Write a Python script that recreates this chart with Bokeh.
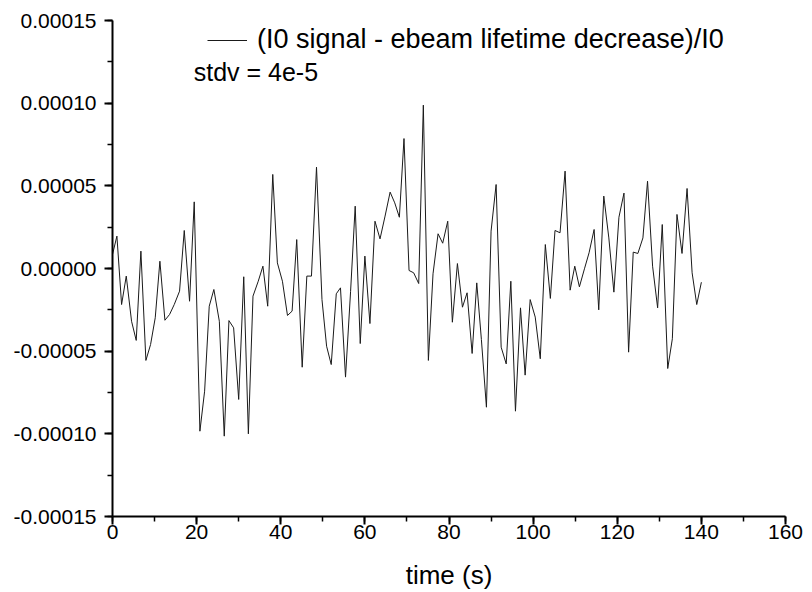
from bokeh.plotting import figure
from bokeh.models import Range1d, FixedTicker, PrintfTickFormatter, Legend, LegendItem, Label
from bokeh.embed import file_html
from bokeh.resources import INLINE

# time (s)
time_s = [0.0, 1.05, 2.16, 3.27, 4.53, 5.64, 6.75, 7.94, 9.05, 10.16, 11.27, 12.46, 13.57, 14.68,
          15.94, 17.06, 18.32, 19.43, 20.78, 21.9, 23.0, 24.1, 25.4, 26.57, 27.68, 28.8, 30.0,
          31.2, 32.3, 33.4, 34.65, 35.76, 36.9, 38.1, 39.2, 40.4, 41.6, 42.7, 43.8, 45.1, 46.2,
          47.3, 48.5, 49.8, 50.9, 52.0, 53.2, 54.2, 55.4, 56.6, 57.7, 58.9, 60.0, 61.2, 62.4,
          63.6, 64.8, 66.0, 67.1, 68.2, 69.3, 70.5, 71.6, 72.8, 73.9, 75.1, 76.2, 77.4, 78.5,
          79.7, 80.8, 82.0, 83.2, 84.3, 85.5, 86.6, 87.7, 88.9, 90.0, 91.2, 92.4, 93.6, 94.7,
          95.8, 97.0, 98.1, 99.3, 100.5, 101.7, 102.9, 104.1, 105.2, 106.4, 107.6, 108.8, 109.9,
          111.0, 112.2, 113.3, 114.5, 115.6, 116.8, 118.0, 119.2, 120.4, 121.6, 122.7, 123.8,
          124.9, 126.1, 127.2, 128.4, 129.6, 130.7, 132.0, 133.1, 134.2, 135.4, 136.6, 137.8,
          138.9, 140.0]

# (I0 signal - ebeam lifetime decrease)/I0
signal = [0.85e-5, 1.96e-5, -2.18e-5, -0.46e-5, -3.19e-5, -4.35e-5, 1.05e-5, -5.56e-5, -4.6e-5,
          -2.98e-5, 0.44e-5, -3.13e-5, -2.78e-5, -2.18e-5, -1.37e-5, 2.3e-5, -1.98e-5, 4.03e-5,
          -9.84e-5, -7.42e-5, -2.28e-5, -1.27e-5, -3.19e-5, -10.14e-5, -3.15e-5, -3.59e-5,
          -7.92e-5, -0.5e-5, -10.0e-5, -1.67e-5, -0.77e-5, 0.14e-5, -2.28e-5, 5.69e-5, 0.34e-5,
          -0.77e-5, -2.84e-5, -2.58e-5, 1.75e-5, -5.97e-5, -0.46e-5, -0.46e-5, 6.13e-5, -1.88e-5,
          -4.7e-5, -5.81e-5, -1.53e-5, -1.17e-5, -6.57e-5, -1.4e-5, 3.77e-5, -4.54e-5, 0.75e-5,
          -3.33e-5, 2.86e-5, 1.79e-5, 3.17e-5, 4.62e-5, 3.97e-5, 3.1e-5, 7.86e-5, -0.12e-5,
          -0.26e-5, -0.91e-5, 9.88e-5, -5.56e-5, -0.32e-5, 2.1e-5, 1.53e-5, 2.86e-5, -3.25e-5,
          0.3e-5, -2.34e-5, -1.47e-5, -5.14e-5, -0.87e-5, -4.29e-5, -8.39e-5, 2.26e-5, 5.08e-5,
          -4.76e-5, -5.77e-5, -0.77e-5, -8.63e-5, -2.38e-5, -6.45e-5, -1.88e-5, -2.94e-5,
          -5.46e-5, 1.45e-5, -1.81e-5, 2.3e-5, 2.16e-5, 5.89e-5, -1.31e-5, 0.14e-5, -1.11e-5,
          -0.02e-5, 0.95e-5, 2.36e-5, -2.5e-5, 4.38e-5, 1.85e-5, -1.43e-5, 3.1e-5, 4.56e-5,
          -5.06e-5, 0.99e-5, 0.91e-5, 1.85e-5, 5.28e-5, 0.14e-5, -2.38e-5, 2.66e-5, -6.05e-5,
          -4.25e-5, 3.27e-5, 0.91e-5, 4.84e-5, -0.26e-5, -2.18e-5, -0.83e-5]

x_ticks = [0, 20, 40, 60, 80, 100, 120, 140, 160]
x_minor = [0, 10, 20, 30, 40, 50, 60, 70, 80, 90, 100, 110, 120, 130, 140, 150, 160]
y_ticks = [-0.00015, -0.0001, -0.00005, 0.0, 0.00005, 0.0001, 0.00015]
y_minor = [-0.00015, -0.000125, -0.0001, -0.000075, -0.00005, -0.000025, 0.0,
           0.000025, 0.00005, 0.000075, 0.0001, 0.000125, 0.00015]

series_label = "(I0 signal - ebeam lifetime decrease)/I0"
note = "stdv = 4e-5"
x_title = "time (s)"

FONT = "Liberation Sans"

p = figure(width=812, height=592, output_backend="svg", toolbar_location=None,
           x_range=Range1d(0, 160), y_range=Range1d(-0.00015, 0.00015),
           min_border_left=112, min_border_right=27, min_border_top=20, min_border_bottom=76)
p.outline_line_color = None
p.xgrid.visible = False
p.ygrid.visible = False

r = p.line(time_s, signal, line_color="#1a1a1a", line_width=1)

for ax in (p.xaxis[0], p.yaxis[0]):
    ax.axis_line_width = 2
    ax.axis_line_color = "black"
    ax.major_tick_line_width = 2
    ax.minor_tick_line_width = 1.5
    ax.major_tick_out = 8
    ax.major_tick_in = 0
    ax.minor_tick_out = 5
    ax.minor_tick_in = 0
    ax.major_label_text_font = FONT
    ax.major_label_text_font_size = "21px"
    ax.major_label_text_color = "black"

p.yaxis.major_label_standoff = 8
p.xaxis.major_label_standoff = 0
p.xaxis.ticker = FixedTicker(ticks=x_ticks, minor_ticks=x_minor)
p.yaxis.ticker = FixedTicker(ticks=y_ticks, minor_ticks=y_minor)
p.yaxis.formatter = PrintfTickFormatter(format="%.5f")
p.xaxis.axis_label = x_title
p.xaxis.axis_label_text_font = FONT
p.xaxis.axis_label_text_font_size = "26px"
p.xaxis.axis_label_text_font_style = "normal"
p.xaxis.axis_label_text_color = "black"
p.xaxis.axis_label_standoff = 18

legend = Legend(items=[LegendItem(label=series_label, renderers=[r])],
                location=(95, 461), border_line_color=None, background_fill_alpha=0,
                label_text_font=FONT, label_text_font_size="27px", label_text_color="black",
                glyph_width=40, glyph_height=30, label_height=30, label_standoff=10,
                padding=0, margin=0)
p.add_layout(legend)

p.add_layout(Label(x=19.3, y=0.0001186, text=note, text_font=FONT, text_font_size="25px",
                   text_baseline="middle", text_color="black"))

open("out.html", "w").write(file_html(p, INLINE))
